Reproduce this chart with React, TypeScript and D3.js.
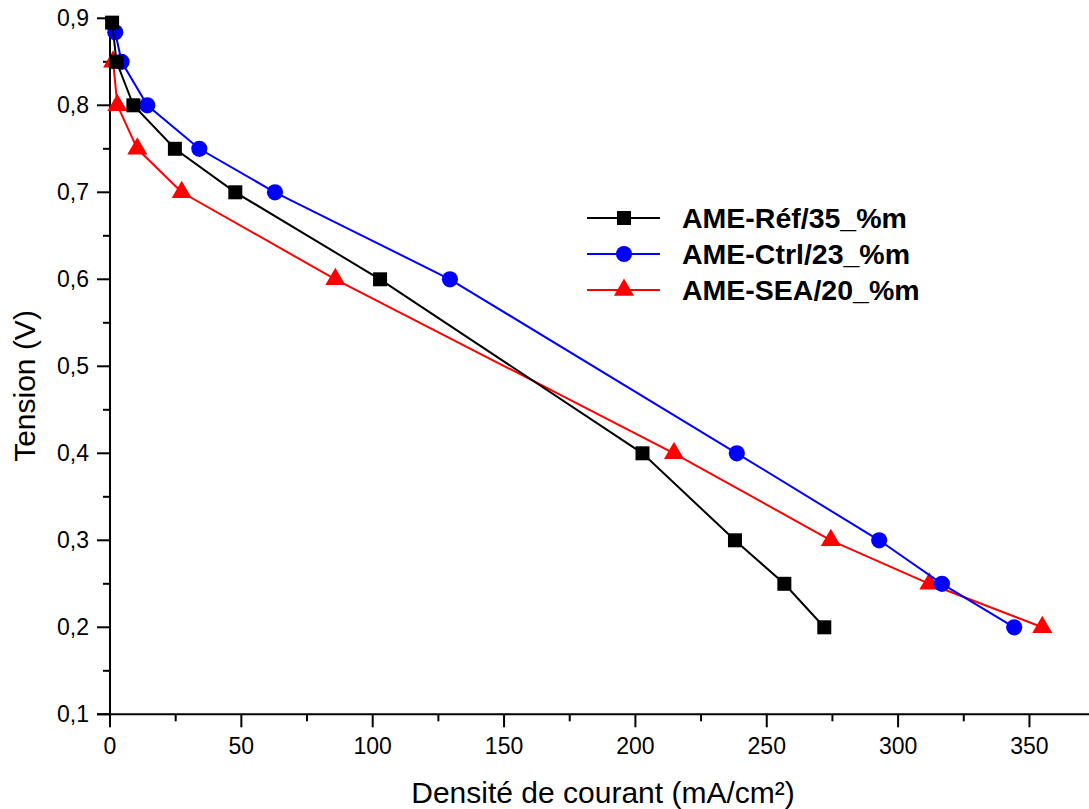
import React from "react";
import * as d3 from "d3";

const refX = [0.8, 2.5, 8.9, 24.7, 47.7, 102.8, 202.7, 237.9, 256.7, 271.9];
const refY = [0.895, 0.85, 0.8, 0.75, 0.7, 0.6, 0.4, 0.3, 0.25, 0.2];
const ctrlX = [2, 4.4, 14.2, 34, 62.8, 129.4, 238.6, 292.8, 316.7, 344.2];
const ctrlY = [0.884, 0.85, 0.8, 0.75, 0.7, 0.6, 0.4, 0.3, 0.25, 0.2];
const seaX = [1.2, 2.8, 10.4, 27.3, 85.8, 214.7, 274.4, 311.9, 354.9];
const seaY = [0.85, 0.8, 0.75, 0.7, 0.6, 0.4, 0.3, 0.25, 0.2];

const xTicks = [0, 50, 100, 150, 200, 250, 300, 350];
const xMinor = [25, 75, 125, 175, 225, 275, 325];
const yTicks = [0.1, 0.2, 0.3, 0.4, 0.5, 0.6, 0.7, 0.8, 0.9];
const yMinor = [0.15, 0.25, 0.35, 0.45, 0.55, 0.65, 0.75, 0.85];

const seriesNames = ["AME-Réf/35_%m", "AME-Ctrl/23_%m", "AME-SEA/20_%m"];
const seriesColors = ["#000000", "#0000ff", "#ff0000"];

const W = 1089;
const H = 809;
const FONT = "Arial, 'Liberation Sans', sans-serif";

export default function App() {
  const x = d3.scaleLinear().domain([0, 375]).range([110, 110 + 375 * 2.627]);
  const y = d3.scaleLinear().domain([0.1, 0.9]).range([714.3, 18.3]);
  const line = d3.line<[number, number]>().x((d) => x(d[0])).y((d) => y(d[1]));

  const series = [
    { xs: refX, ys: refY, sym: d3.symbolSquare, size: 196 },
    { xs: ctrlX, ys: ctrlY, sym: d3.symbolCircle, size: 205 },
    { xs: seaX, ys: seaY, sym: d3.symbolTriangle, size: 175 },
  ].map((s, i) => ({
    ...s,
    name: seriesNames[i],
    color: seriesColors[i],
    pts: s.xs.map((v, j) => [v, s.ys[j]] as [number, number]),
    path: d3.symbol().type(s.sym).size(s.size)() as string,
  }));

  const drawOrder = [2, 1, 0];
  const fmt = (v: number) => d3.format(".1f")(v).replace(".", ",");
  const x0 = x(0);
  const yb = y(0.1);

  return (
    <svg
      width={W}
      height={H}
      style={{ position: "absolute", left: 0, top: 0, background: "#fff" }}
      fontFamily={FONT}
    >
      <rect width={W} height={H} fill="#fff" />
      {/* axes */}
      <line x1={x0} x2={x0} y1={y(0.9) - 1} y2={yb} stroke="#000" strokeWidth={2} />
      <line x1={x0 - 13} x2={W} y1={yb} y2={yb} stroke="#000" strokeWidth={2} />
      {yTicks.map((t) => (
        <g key={"yt" + t}>
          <line x1={x0 - 13} x2={x0} y1={y(t)} y2={y(t)} stroke="#000" strokeWidth={2} />
          <text x={89} y={y(t)} dy="0.35em" textAnchor="end" fontSize={23} fill="#000">
            {fmt(t)}
          </text>
        </g>
      ))}
      {yMinor.map((t) => (
        <line key={"ym" + t} x1={x0 - 7} x2={x0} y1={y(t)} y2={y(t)} stroke="#000" strokeWidth={2} />
      ))}
      {xTicks.map((t) => (
        <g key={"xt" + t}>
          <line x1={x(t)} x2={x(t)} y1={yb} y2={yb + 13} stroke="#000" strokeWidth={2} />
          <text x={x(t)} y={754} textAnchor="middle" fontSize={23} fill="#000">
            {t}
          </text>
        </g>
      ))}
      {xMinor.map((t) => (
        <line key={"xm" + t} x1={x(t)} x2={x(t)} y1={yb} y2={yb + 7} stroke="#000" strokeWidth={2} />
      ))}
      {/* axis titles */}
      <text x={603} y={803} textAnchor="middle" fontSize={30} fill="#000">
        Densité de courant (mA/cm²)
      </text>
      <text
        transform={`translate(35,386) rotate(-90)`}
        textAnchor="middle"
        fontSize={30}
        fill="#000"
      >
        Tension (V)
      </text>
      {/* series */}
      {drawOrder.map((i) => {
        const s = series[i];
        return (
          <g key={s.name}>
            <path d={line(s.pts) as string} fill="none" stroke={s.color} strokeWidth={2} />
            {s.pts.map((p, j) => (
              <path key={j} d={s.path} transform={`translate(${x(p[0])},${y(p[1])})`} fill={s.color} />
            ))}
          </g>
        );
      })}
      {/* legend */}
      {series.map((s, i) => {
        const ly = 218 + i * 36;
        return (
          <g key={"lg" + i}>
            <line x1={587} x2={660} y1={ly} y2={ly} stroke={s.color} strokeWidth={2} />
            <path d={s.path} transform={`translate(624,${ly})`} fill={s.color} />
            <text x={682} y={ly} dy="0.36em" fontSize={28.5} fontWeight="bold" fill="#000">
              {s.name}
            </text>
          </g>
        );
      })}
    </svg>
  );
}
